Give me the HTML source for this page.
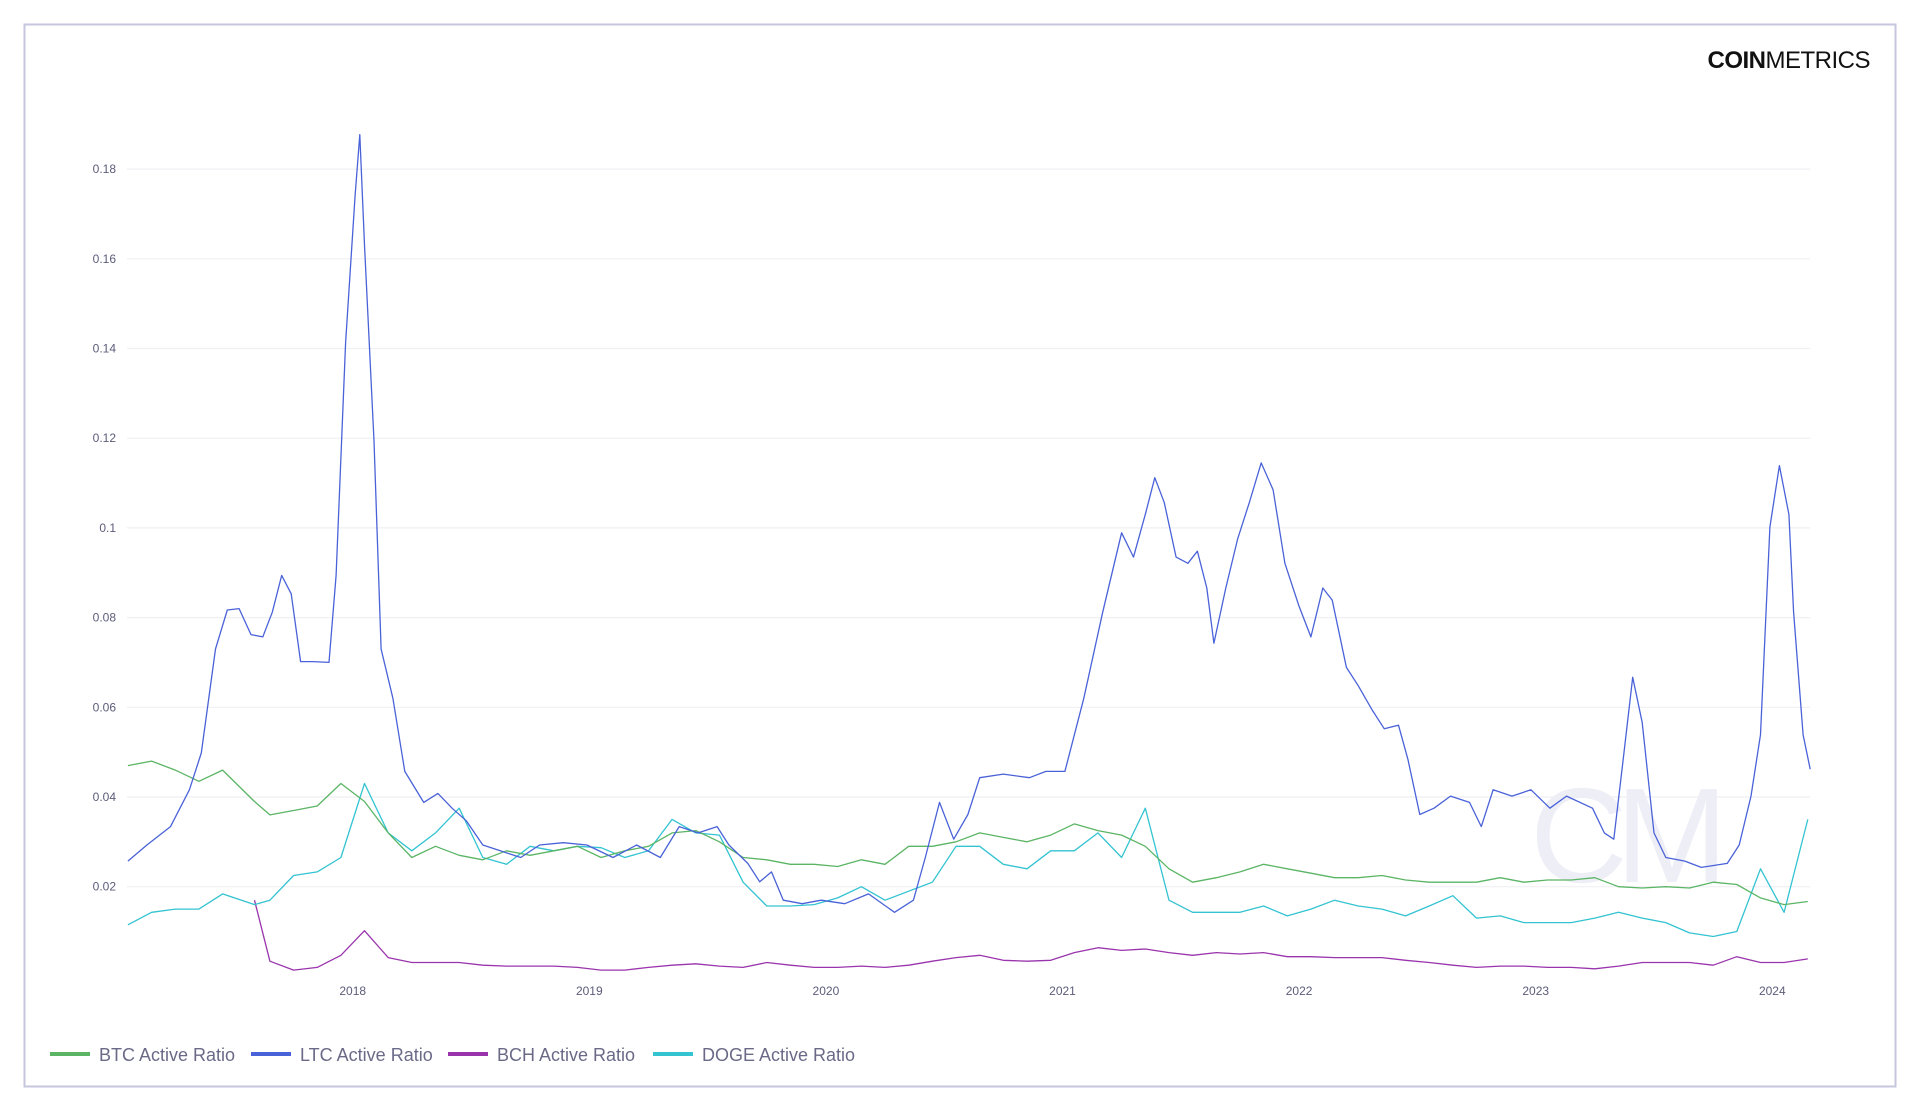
<!DOCTYPE html>
<html><head><meta charset="utf-8"><style>
html,body{margin:0;padding:0;background:#fff;}
body{width:1920px;height:1112px;overflow:hidden;font-family:"Liberation Sans",sans-serif;}
svg text{font-family:"Liberation Sans",sans-serif;}
</style></head><body>
<svg id="chart" width="1920" height="1112" xmlns="http://www.w3.org/2000/svg">
<rect x="24.5" y="24.5" width="1871" height="1062" fill="#fff" stroke="#c6c6dc" stroke-width="2"/>
<text x="1870" y="68" text-anchor="end" font-size="24" fill="#111" letter-spacing="-0.5"><tspan font-weight="bold">COIN</tspan><tspan>METRICS</tspan></text>
<text x="1623" y="882" text-anchor="middle" font-size="135" fill="#eeeef7" letter-spacing="-12">CM</text>
<g id="grid"></g>
<g id="series"></g>
<g id="legend"></g>
</svg>
<script>
const yTicks=[0.02,0.04,0.06,0.08,0.1,0.12,0.14,0.16,0.18];
const yTickLabels=["0.02","0.04","0.06","0.08","0.1","0.12","0.14","0.16","0.18"];
const xTicks=[2018,2019,2020,2021,2022,2023,2024];
const xTickLabels=["2018","2019","2020","2021","2022","2023","2024"];
const ltcT=[2017.05,2017.13,2017.23,2017.31,2017.36,2017.42,2017.47,2017.52,2017.57,2017.62,2017.66,2017.70,2017.74,2017.78,2017.83,2017.90,2017.93,2017.97,2018.01,2018.03,2018.05,2018.09,2018.12,2018.17,2018.22,2018.30,2018.36,2018.42,2018.48,2018.55,2018.63,2018.71,2018.79,2018.89,2018.99,2019.10,2019.20,2019.30,2019.38,2019.46,2019.54,2019.59,2019.67,2019.72,2019.77,2019.82,2019.90,2019.98,2020.08,2020.18,2020.29,2020.37,2020.42,2020.48,2020.54,2020.60,2020.65,2020.75,2020.86,2020.93,2021.01,2021.09,2021.17,2021.25,2021.30,2021.35,2021.39,2021.43,2021.48,2021.53,2021.57,2021.61,2021.64,2021.69,2021.74,2021.79,2021.84,2021.89,2021.94,2022.00,2022.05,2022.10,2022.14,2022.20,2022.25,2022.31,2022.36,2022.42,2022.46,2022.51,2022.57,2022.64,2022.72,2022.77,2022.82,2022.90,2022.98,2023.06,2023.13,2023.24,2023.29,2023.33,2023.37,2023.41,2023.45,2023.50,2023.55,2023.63,2023.70,2023.81,2023.86,2023.91,2023.95,2023.99,2024.03,2024.07,2024.09,2024.13,2024.16];
const ltcV=[0.0257,0.0293,0.0334,0.0416,0.0498,0.0730,0.0817,0.0820,0.0762,0.0757,0.0812,0.0894,0.0853,0.0702,0.0702,0.0700,0.0894,0.1413,0.1741,0.1877,0.1631,0.1194,0.0730,0.0620,0.0457,0.0388,0.0408,0.0375,0.0347,0.0293,0.0279,0.0265,0.0293,0.0298,0.0293,0.0265,0.0293,0.0265,0.0334,0.0320,0.0334,0.0293,0.0252,0.0211,0.0233,0.0170,0.0162,0.0170,0.0162,0.0184,0.0143,0.0170,0.0265,0.0388,0.0306,0.0361,0.0443,0.0451,0.0443,0.0457,0.0457,0.0620,0.0812,0.0989,0.0935,0.1030,0.1112,0.1057,0.0935,0.0921,0.0948,0.0866,0.0743,0.0866,0.0975,0.1057,0.1145,0.1085,0.0921,0.0825,0.0757,0.0866,0.0839,0.0689,0.0648,0.0593,0.0552,0.0560,0.0484,0.0361,0.0375,0.0402,0.0388,0.0334,0.0416,0.0402,0.0416,0.0375,0.0402,0.0375,0.0320,0.0306,0.0484,0.0667,0.0566,0.0320,0.0265,0.0257,0.0243,0.0252,0.0293,0.0402,0.0539,0.1002,0.1139,0.1030,0.0812,0.0539,0.0462];
const btcV=[0.047,0.048,0.046,0.0435,0.046,0.039,0.036,0.037,0.038,0.043,0.039,0.032,0.0265,0.029,0.027,0.026,0.028,0.027,0.028,0.029,0.0265,0.028,0.029,0.032,0.0325,0.030,0.0265,0.026,0.025,0.025,0.0245,0.026,0.025,0.029,0.029,0.030,0.032,0.031,0.030,0.0315,0.034,0.0325,0.0315,0.029,0.024,0.021,0.022,0.0233,0.025,0.024,0.023,0.022,0.022,0.0225,0.0215,0.021,0.021,0.021,0.022,0.021,0.0215,0.0215,0.022,0.020,0.0197,0.020,0.0197,0.021,0.0205,0.0175,0.016,0.0167];
const dogeV=[0.0115,0.0143,0.015,0.015,0.0184,0.016,0.017,0.0225,0.0233,0.0265,0.043,0.032,0.028,0.032,0.0375,0.0265,0.025,0.029,0.028,0.029,0.0287,0.0265,0.028,0.035,0.032,0.0315,0.021,0.0157,0.0157,0.016,0.0175,0.020,0.017,0.019,0.021,0.029,0.029,0.025,0.024,0.028,0.028,0.032,0.0265,0.0375,0.017,0.0143,0.0143,0.0143,0.0157,0.0135,0.015,0.017,0.0157,0.015,0.0135,0.0157,0.018,0.013,0.0135,0.012,0.012,0.012,0.013,0.0143,0.013,0.012,0.0097,0.0089,0.010,0.024,0.0143,0.035];
const bchV=[null,null,null,null,null,0.017,0.0034,0.0014,0.002,0.0047,0.0102,0.0042,0.0031,0.0031,0.0031,0.0025,0.0023,0.0023,0.0023,0.002,0.0014,0.0014,0.002,0.0025,0.0028,0.0023,0.002,0.0031,0.0025,0.002,0.002,0.0023,0.002,0.0025,0.0034,0.0042,0.0047,0.0036,0.0034,0.0036,0.0053,0.0064,0.0058,0.0061,0.0053,0.0047,0.0053,0.005,0.0053,0.0044,0.0044,0.0042,0.0042,0.0042,0.0036,0.0031,0.0025,0.002,0.0023,0.0023,0.002,0.002,0.0017,0.0023,0.0031,0.0031,0.0031,0.0025,0.0044,0.0031,0.0031,0.0039];
const sharedT=[];for(let k=0;k<72;k++)sharedT.push(2017.05+0.1*k);
sharedT[5]=2017.585;
const seriesNames=["BTC Active Ratio","LTC Active Ratio","BCH Active Ratio","DOGE Active Ratio"];
const seriesColors=["#5bb565","#4a62d8","#9a34ad","#33c3d1"];

const xPx=yr=>352.7+(yr-2018)*236.6;
const yPx=v=>976.4-v/0.02*89.7;
const NS="http://www.w3.org/2000/svg";
function mk(tag,attrs,parent){const e=document.createElementNS(NS,tag);for(const k in attrs)e.setAttribute(k,attrs[k]);parent.appendChild(e);return e;}
const grid=document.getElementById('grid');
yTicks.forEach((t,i)=>{
  const l=mk('line',{x1:127,x2:1810,y1:yPx(t),y2:yPx(t),stroke:'#efeff4','stroke-width':1.2},grid);
  
  
  const tx=mk('text',{x:116,y:yPx(t)+4,'text-anchor':'end','font-size':12,fill:'#5c5c7a'},grid);
  tx.textContent=yTickLabels[i];
  
  
});
xTicks.forEach((t,i)=>{
  const tx=mk('text',{x:xPx(t),y:995,'text-anchor':'middle','font-size':12,fill:'#5c5c7a'},grid);
  tx.textContent=xTickLabels[i];
  
  
});
const sg=document.getElementById('series');
function draw(ts,vs,color,name){
  let d='',pen=false;
  for(let i=0;i<ts.length;i++){if(vs[i]==null){pen=false;continue;}d+=(pen?'L':'M')+xPx(ts[i]).toFixed(1)+','+yPx(vs[i]).toFixed(1);pen=true;}
  const p=mk('path',{d:d,fill:'none',stroke:color,'stroke-width':1.3,'stroke-linejoin':'round'},sg);
  
  
}
draw(sharedT,bchV,seriesColors[2],'bch-line');
draw(sharedT,dogeV,seriesColors[3],'doge-line');
draw(sharedT,btcV,seriesColors[0],'btc-line');
draw(ltcT,ltcV,seriesColors[1],'ltc-line');
const lg=document.getElementById('legend');
const lx=[50,251,448,653];
seriesNames.forEach((n,i)=>{
  const g=mk('g',{},lg);
  
  
  mk('line',{x1:lx[i],x2:lx[i]+40,y1:1054,y2:1054,stroke:seriesColors[i],'stroke-width':4},g);
  const t=mk('text',{x:lx[i]+49,y:1061,'font-size':18,fill:'#6a6a88'},g);
  t.textContent=n;
});
</script>
</body></html>
